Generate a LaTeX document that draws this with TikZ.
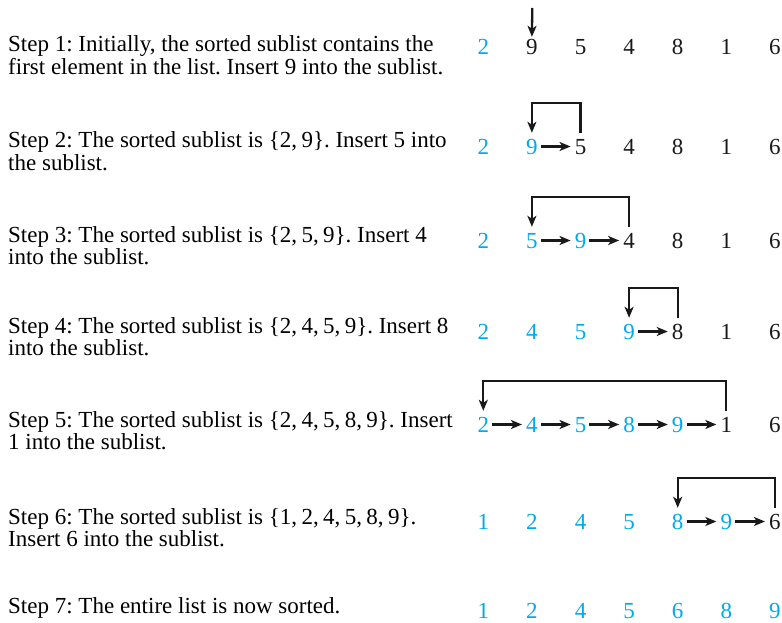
\documentclass[tikz,border=0pt]{standalone}
\usepackage{fontspec}
\setmainfont{Liberation Serif}
\usetikzlibrary{arrows.meta}
\definecolor{sortcyan}{RGB}{0,170,232}
\frenchspacing
\newcommand\lst[1]{{\spaceskip=0.19em\relax\{#1\}}}
\newcommand\digrow[4]{%
  \foreach \d [count=\i] in {#4} {
    \ifnum\i>#3\relax
      \node[bk] (r#1c\i) at ({483.3+48.6*(\i-1)},#2) {\d};
    \else
      \node[cy] (r#1c\i) at ({483.3+48.6*(\i-1)},#2) {\d};
    \fi
  }%
}
\begin{document}
\begin{tikzpicture}[x=1pt,y=-1pt,
  steptext/.style={anchor=base west,inner sep=0pt,font=\fontsize{23}{22.5}\selectfont\frenchspacing},
  dig/.style={anchor=base,inner sep=0pt,text height=15pt,text depth=0pt,font=\fontsize{23}{23}\selectfont},
  cy/.style={dig,text=sortcyan},
  bk/.style={dig,text=black!90},
  arr/.style={-{Stealth[length=11pt,width=9pt,inset=3pt]},line width=2.3pt,draw=black!90},
  harr/.style={arr,shorten <=3pt,shorten >=4pt}]
\useasboundingbox (0,0) rectangle (782,623);

% step texts
\node[steptext] (s1) at (8,52) {\vtop{\hbox{Step 1: Initially, the sorted sublist contains the}\hbox{first element in the list. Insert 9 into the sublist.}}};
\node[steptext] (s2) at (8,148) {\vtop{\hbox{Step 2: The sorted sublist is \lst{2, 9}. Insert 5 into}\hbox{the sublist.}}};
\node[steptext] (s3) at (8,242) {\vtop{\hbox{Step 3: The sorted sublist is \lst{2, 5, 9}. Insert 4}\hbox{into the sublist.}}};
\node[steptext] (s4) at (8,333) {\vtop{\hbox{Step 4: The sorted sublist is \lst{2, 4, 5, 9}. Insert 8}\hbox{into the sublist.}}};
\node[steptext] (s5) at (8,427) {\vtop{\hbox{Step 5: The sorted sublist is \lst{2, 4, 5, 8, 9}. Insert}\hbox{1 into the sublist.}}};
\node[steptext] (s6) at (8,524) {\vtop{\hbox{Step 6: The sorted sublist is \lst{1, 2, 4, 5, 8, 9}.}\hbox{Insert 6 into the sublist.}}};
\node[steptext] (s7) at (8,613) {Step 7: The entire list is now sorted.};

% digit rows
\digrow{1}{55}{1}{2,9,5,4,8,1,6}
\digrow{2}{154}{2}{2,9,5,4,8,1,6}
\digrow{3}{248}{3}{2,5,9,4,8,1,6}
\digrow{4}{339}{4}{2,4,5,9,8,1,6}
\digrow{5}{432}{5}{2,4,5,8,9,1,6}
\digrow{6}{529}{6}{1,2,4,5,8,9,6}
\digrow{7}{618}{7}{1,2,4,5,6,8,9}

% step 1
\coordinate (top1) at (532.3,8);
\draw[arr] (top1) -- ([yshift=3pt]r1c2.north);

% step 2
\draw[harr] (r2c2.east) -- (r2c3.west);
\draw[arr] ([yshift=6pt]r2c3.north) -- ++(0,30pt) -| ([yshift=6pt]r2c2.north);

% step 3
\draw[harr] (r3c2.east) -- (r3c3.west);
\draw[harr] (r3c3.east) -- (r3c4.west);
\draw[arr] ([yshift=6pt]r3c4.north) -- ++(0,30pt) -| ([yshift=6pt]r3c2.north);

% step 4
\draw[harr] (r4c4.east) -- (r4c5.west);
\draw[arr] ([yshift=6pt]r4c5.north) -- ++(0,30pt) -| ([yshift=6pt]r4c4.north);

% step 5
\foreach \a/\b in {1/2,2/3,3/4,4/5,5/6}
  \draw[harr] (r5c\a.east) -- (r5c\b.west);
\draw[arr] ([yshift=6pt]r5c6.north) -- ++(0,30pt) -| ([yshift=6pt]r5c1.north);

% step 6
\draw[harr] (r6c5.east) -- (r6c6.west);
\draw[harr] (r6c6.east) -- (r6c7.west);
\draw[arr] ([yshift=6pt]r6c7.north) -- ++(0,30pt) -| ([yshift=6pt]r6c5.north);
\end{tikzpicture}
\end{document}
